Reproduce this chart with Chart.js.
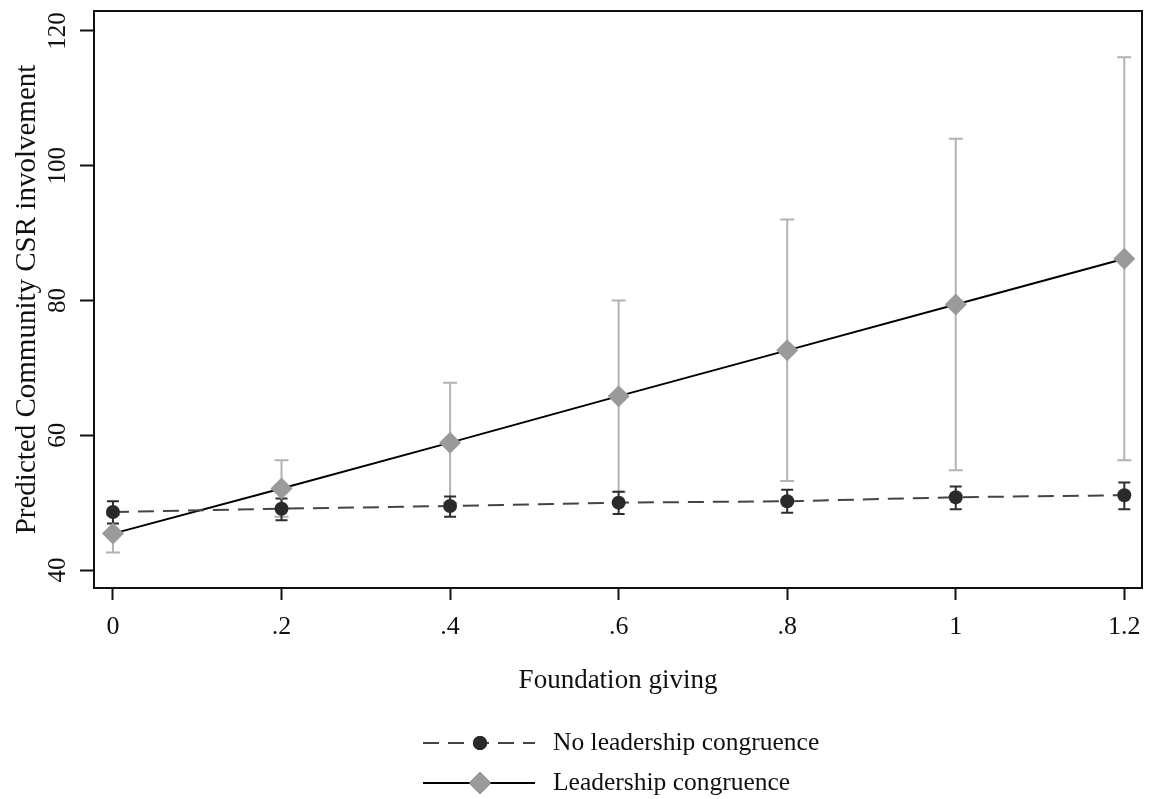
<!DOCTYPE html>
<html>
<head>
<meta charset="utf-8">
<script src="https://cdn.jsdelivr.net/npm/chart.js@4"></script>
<style>
  html, body { margin: 0; padding: 0; background: #fff; }
  #wrap { width: 1153px; height: 799px; }
</style>
</head>
<body>
<div id="wrap"><canvas id="chart"></canvas></div>
<script>
// --- data ---
const xValues = [0, 0.2, 0.4, 0.6, 0.8, 1, 1.2];
const xTickLabels = ['0', '.2', '.4', '.6', '.8', '1', '1.2'];
const yTickValues = [40, 60, 80, 100, 120];

const noCongruence = [48.6, 49.1, 49.5, 50.0, 50.2, 50.8, 51.1];
const noCongruenceLow = [46.9, 47.4, 47.9, 48.3, 48.5, 49.0, 49.0];
const noCongruenceHigh = [50.2, 50.6, 50.9, 51.6, 51.9, 52.4, 53.0];

const congruence = [45.4, 52.1, 58.9, 65.8, 72.6, 79.4, 86.2];
const congruenceLow = [42.6, 47.9, 50.0, 51.6, 53.2, 54.8, 56.3];
const congruenceHigh = [48.2, 56.3, 67.8, 80.0, 92.0, 104.0, 116.1];

const serif = '"Liberation Serif", "Times New Roman", serif';
const txtColor = '#111';

// error bars, drawn under lines and markers
const errorBars = {
    id: 'errorBars',
    beforeDatasetsDraw(chart) {
        const { ctx, scales: { x, y } } = chart;
        const sets = [
            { lo: congruenceLow, hi: congruenceHigh, color: '#b3b3b3', cap: 7 },
            { lo: noCongruenceLow, hi: noCongruenceHigh, color: '#2e2e2e', cap: 6 }
        ];
        ctx.save();
        ctx.lineWidth = 2;
        sets.forEach(s => {
            ctx.strokeStyle = s.color;
            xValues.forEach((xv, i) => {
                const px = x.getPixelForValue(xv);
                const y1 = y.getPixelForValue(s.lo[i]);
                const y2 = y.getPixelForValue(s.hi[i]);
                ctx.beginPath();
                ctx.moveTo(px, y1); ctx.lineTo(px, y2);
                ctx.moveTo(px - s.cap, y1); ctx.lineTo(px + s.cap, y1);
                ctx.moveTo(px - s.cap, y2); ctx.lineTo(px + s.cap, y2);
                ctx.stroke();
            });
        });
        ctx.restore();
    }
};

// frame round the plot area + two-row legend under the chart
const frameAndLegend = {
    id: 'frameAndLegend',
    afterDraw(chart) {
        const { ctx, chartArea: a } = chart;
        ctx.save();
        ctx.strokeStyle = '#111';
        ctx.lineWidth = 2;
        ctx.strokeRect(a.left, a.top, a.right - a.left, a.bottom - a.top);

        const rows = [743, 783];
        chart.data.datasets.forEach((ds, i) => {
            const yy = rows[i];
            ctx.strokeStyle = ds.borderColor;
            ctx.lineWidth = 2;
            ctx.setLineDash(ds.borderDash || []);
            ctx.beginPath();
            ctx.moveTo(423, yy); ctx.lineTo(535, yy);
            ctx.stroke();
            ctx.setLineDash([]);
            Chart.helpers.drawPoint(ctx, {
                pointStyle: ds.pointStyle,
                radius: ds.pointRadius,
                borderWidth: 0
            }, 480, yy);
            ctx.fillStyle = ds.pointBackgroundColor;
            ctx.fill();
            ctx.fillStyle = txtColor;
            ctx.font = '25.5px ' + serif;
            ctx.textBaseline = 'middle';
            ctx.textAlign = 'left';
            ctx.fillText(ds.label, 553, yy);
        });
        ctx.restore();
    }
};

new Chart(document.getElementById('chart'), {
    type: 'line',
    data: {
        labels: xValues,
        datasets: [
            {
                label: 'No leadership congruence',
                data: xValues.map((v, i) => ({ x: v, y: noCongruence[i] })),
                borderColor: '#444444',
                borderWidth: 2,
                borderDash: [16, 9],
                pointStyle: 'circle',
                pointRadius: 7,
                pointBackgroundColor: '#2a2a2a',
                pointBorderWidth: 0,
                tension: 0
            },
            {
                label: 'Leadership congruence',
                data: xValues.map((v, i) => ({ x: v, y: congruence[i] })),
                borderColor: '#000000',
                borderWidth: 2,
                pointStyle: 'rectRot',
                pointRadius: 11,
                pointBackgroundColor: '#9a9a9a',
                pointBorderWidth: 0,
                tension: 0
            }
        ]
    },
    options: {
        responsive: true,
        maintainAspectRatio: false,
        animation: false,
        events: [],
        layout: { padding: { top: 10, right: 6, bottom: 0, left: 0 } },
        plugins: {
            legend: { display: false },
            tooltip: { enabled: false }
        },
        scales: {
            x: {
                type: 'linear',
                min: -0.0225,
                max: 1.221,
                afterBuildTicks: s => { s.ticks = xValues.map(v => ({ value: v })); },
                afterFit: s => { s.height = 211; s.paddingRight = 0; s.paddingLeft = 0; },
                border: { display: false },
                grid: { drawOnChartArea: false, tickLength: 12, tickWidth: 2, tickColor: '#111' },
                ticks: {
                    padding: 12,
                    color: txtColor,
                    font: { family: serif, size: 26 },
                    maxRotation: 0,
                    callback: (v) => xTickLabels[xValues.indexOf(v)]
                },
                title: {
                    display: true,
                    text: 'Foundation giving',
                    color: txtColor,
                    font: { family: serif, size: 27 },
                    padding: { top: 0, bottom: 102 }
                }
            },
            y: {
                min: 37.33,
                max: 122.96,
                afterBuildTicks: s => { s.ticks = yTickValues.map(v => ({ value: v })); },
                afterFit: s => { s.width = 94; s.paddingTop = 0; s.paddingBottom = 0; },
                border: { display: false },
                grid: { drawOnChartArea: false, tickLength: 14, tickWidth: 2, tickColor: '#111' },
                ticks: {
                    padding: 3,
                    color: txtColor,
                    font: { family: serif, size: 25 },
                    minRotation: 90,
                    maxRotation: 90,
                    crossAlign: 'center',
                    callback: v => String(v)
                },
                title: {
                    display: true,
                    text: 'Predicted Community CSR involvement',
                    color: txtColor,
                    font: { family: serif, size: 29 },
                    padding: { top: 10, bottom: 0 }
                }
            }
        }
    },
    plugins: [errorBars, frameAndLegend]
});
</script>
</body>
</html>
